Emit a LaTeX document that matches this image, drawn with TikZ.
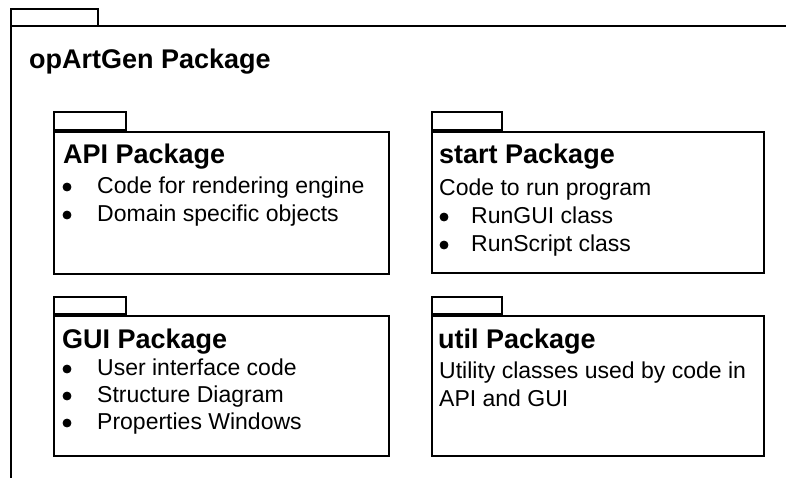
\documentclass[tikz,border=0pt]{standalone}
\usepackage{fontspec}
\setmainfont{Liberation Sans}
\begin{document}
\begin{tikzpicture}[x=1pt,y=-1pt,
  pkg/.style={draw, line width=2pt, inner sep=0pt},
  ttl/.style={anchor=base west, inner sep=0pt, font=\fontsize{27}{32}\selectfont\bfseries},
  txt/.style={anchor=base west, inner sep=0pt, font=\fontsize{23}{28}\selectfont},
  bul/.style={circle, fill, draw, line width=0.8pt, inner sep=0pt, minimum size=8pt}]
\useasboundingbox (0,0) rectangle (786,477);
\begin{scope}
\clip (0,0) rectangle (786,477);
% outer package
\coordinate (otl) at (11,26);
\coordinate (obl) at (11,480);
\coordinate (otr) at (792,26);
\coordinate (otabl) at (11,9);
\coordinate (otabr) at (98,9);
\coordinate (otabb) at (98,26);
\draw[line width=2pt] (obl) -- (otl) -- (otr);
\draw[line width=2pt] (otl) -- (otabl) -- (otabr) -- (otabb);
\end{scope}
\node[ttl] (title) at (29,68) {opArtGen Package};

% API package
\node[pkg, anchor=north west, minimum width=335pt, minimum height=142pt] (api) at (53,131) {};
\node[pkg, anchor=south west, minimum width=72pt, minimum height=18pt] (apitab) at (api.north west) {};
\node[ttl] (apit) at (63,163) {API Package};
\node[bul] (apib1) at (67,187) {};
\node[txt] (apil1) at (97,193) {Code for rendering engine};
\node[bul] (apib2) at (67,215) {};
\node[txt] (apil2) at (97,221) {Domain specific objects};

% start package
\node[pkg, anchor=north west, minimum width=332pt, minimum height=141pt] (start) at (431,131) {};
\node[pkg, anchor=south west, minimum width=70pt, minimum height=18pt] (starttab) at (start.north west) {};
\node[ttl] (startt) at (439,163) {start Package};
\node[txt] (startl0) at (439,195) {Code to run program};
\node[bul] (startb1) at (444,217) {};
\node[txt] (startl1) at (471,223) {RunGUI class};
\node[bul] (startb2) at (444,245) {};
\node[txt] (startl2) at (471,251) {RunScript class};

% GUI package
\node[pkg, anchor=north west, minimum width=335pt, minimum height=140pt] (gui) at (53,315) {};
\node[pkg, anchor=south west, minimum width=72pt, minimum height=17pt] (guitab) at (gui.north west) {};
\node[ttl] (guit) at (62,348) {GUI Package};
\node[bul] (guib1) at (67,369) {};
\node[txt] (guil1) at (97,375) {User interface code};
\node[bul] (guib2) at (67,396) {};
\node[txt] (guil2) at (97,402) {Structure Diagram};
\node[bul] (guib3) at (67,423) {};
\node[txt] (guil3) at (97,429) {Properties Windows};

% util package
\node[pkg, anchor=north west, minimum width=332pt, minimum height=140pt] (util) at (431,315) {};
\node[pkg, anchor=south west, minimum width=70pt, minimum height=17pt] (utiltab) at (util.north west) {};
\node[ttl] (utilt) at (438,348) {util Package};
\node[txt] (utill1) at (439,378) {Utility classes used by code in};
\node[txt] (utill2) at (439,406) {API and GUI};
\end{tikzpicture}
\end{document}
